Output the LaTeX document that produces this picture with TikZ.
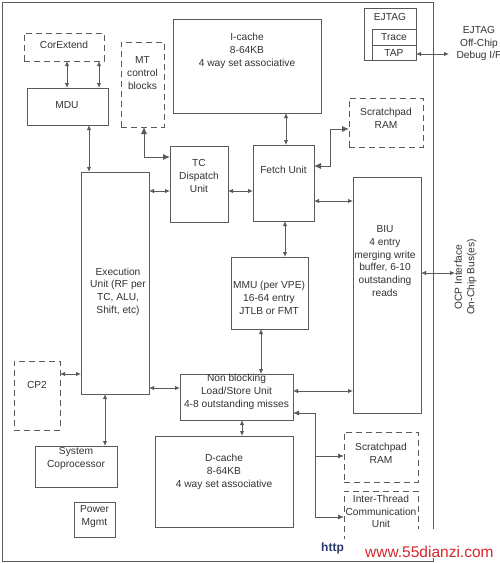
\documentclass[tikz,border=0pt]{standalone}
\usepackage{fontspec}
\setmainfont{Liberation Sans}
\usetikzlibrary{arrows.meta,fit}
\definecolor{ln}{HTML}{5A5A5A}
\definecolor{tx}{HTML}{333333}
\definecolor{wmred}{HTML}{D8262B}
\definecolor{wmblue}{HTML}{2B3A6E}
\begin{document}
\begin{tikzpicture}[x=1pt,y=-1pt,
  box/.style={draw=ln,line width=0.9pt,inner sep=0pt,outer sep=0pt},
  dbox/.style={box,dash pattern=on 6pt off 4pt},
  lbl/.style={text=tx,font=\fontsize{10.2}{12.7}\selectfont,align=center,inner sep=0pt},
  dbl/.style={draw=ln,line width=0.9pt,{Latex[length=5pt,width=4.5pt]}-{Latex[length=5pt,width=4.5pt]}},
  dblbig/.style={draw=ln,line width=0.9pt,{Latex[length=7pt,width=6pt]}-{Latex[length=7pt,width=6pt]}},
  onebig/.style={draw=ln,line width=0.9pt,-{Latex[length=6pt,width=5pt]}},
  startbig/.style={draw=ln,line width=0.9pt,{Latex[length=6pt,width=5pt]}-}
]
\useasboundingbox (0,0) rectangle (500,563);
\fill[white] (0,0) rectangle (500,563);
% outer frame
\node[box,fit={(2,2) (433,561)}] (chip) {};
% boxes
\node[dbox,fit={(24,33) (104,61)}] (corext) {};
\node[box,fit={(27,88) (108,125)}] (mdu) {};
\node[dbox,fit={(121,42) (164,127)}] (mt) {};
\node[box,fit={(173,19) (321,113)}] (icache) {};
\node[box,fit={(364,8) (416,60)}] (ejtag) {};
\node[box,fit={(372,29) (416,45)}] (trace) {};
\node[box,fit={(372,45) (416,60)}] (tap) {};
\node[dbox,fit={(349,98) (423,147)}] (spram1) {};
\node[box,fit={(81,172) (149,394)}] (exec) {};
\node[box,fit={(170,146) (228,222)}] (tc) {};
\node[box,fit={(253,145) (314,221)}] (fetch) {};
\node[box,fit={(353,177) (421,413)}] (biu) {};
\node[box,fit={(231,257) (308,329)}] (mmu) {};
\node[box,fit={(180,374) (293,420)}] (lsu) {};
\node[box,fit={(155,436) (293,527)}] (dcache) {};
\node[dbox,fit={(14,361) (60,430)}] (cp2) {};
\node[box,fit={(35,446) (117,487)}] (syscop) {};
\node[box,fit={(74,502) (115,537)}] (power) {};
\node[dbox,fit={(344,432) (418,482)}] (spram2) {};
\node[dbox,fit={(344,491) (418,548)}] (itc) {};
% texts
\node[lbl] (corext-t) at (64,45) {CorExtend};
\node[lbl] (mdu-t) at (67,105) {MDU};
\node[lbl] (mt-t) at (142.5,73) {MT\\control\\blocks};
\node[lbl] (icache-t) at (247,51) {I-cache\\8-64KB\\4 way set associative};
\node[lbl] (ejtag-t) at (390,17) {EJTAG};
\node[lbl] (trace-t) at (394,37.5) {Trace};
\node[lbl] (tap-t) at (394,52.5) {TAP};
\node[lbl] (debug-t) at (479,43.5) {EJTAG\\Off-Chip\\Debug I/F};
\node[lbl] (spram1-t) at (386,118) {Scratchpad\\RAM};
\node[lbl] (tc-t) at (199,176) {TC\\Dispatch\\Unit};
\node[lbl] (fetch-t) at (283.5,170) {Fetch Unit};
\node[lbl] (exec-t) at (118,291.5) {Execution\\Unit (RF per\\TC, ALU,\\Shift, etc)};
\node[lbl] (biu-t) at (385,261) {BIU\\4 entry\\merging write\\buffer, 6-10\\outstanding\\reads};
\node[lbl] (mmu-t) at (269,298) {MMU (per VPE)\\16-64 entry\\JTLB or FMT};
\node[lbl] (lsu-t) at (236.5,392) {Non blocking\\Load/Store Unit\\4-8 outstanding misses};
\node[lbl] (dcache-t) at (224,472) {D-cache\\8-64KB\\4 way set associative};
\node[lbl] (cp2-t) at (37,385) {CP2};
\node[lbl] (syscop-t) at (76,458.5) {System\\Coprocessor};
\node[lbl] (power-t) at (94.5,516.5) {Power\\Mgmt};
\node[lbl] (spram2-t) at (381,453) {Scratchpad\\RAM};
\node[lbl] (itc-t) at (381,511.5) {Inter-Thread\\Communication\\Unit};
\node[lbl,rotate=90] (ocp-t) at (465.5,277) {OCP Interface\\On-Chip Bus(es)};
% free ends
\coordinate (dbgend) at (449,54);
\coordinate (ocpend) at (455,273);
% connectors
\draw[dbl] (corext.south -| 67,0) -- (mdu.north -| 67,0);
\draw[dbl] (corext.south -| 99,0) -- (mdu.north -| 99,0);
\draw[dbl] (mdu.south -| 89,0) -- (exec.north -| 89,0);
\draw[dblbig] (mt.south -| 144,0) -- (144,157) -- (tc.west |- 0,157);
\draw[dbl] (exec.east |- 0,191) -- (tc.west |- 0,191);
\draw[dbl] (tc.east |- 0,191) -- (fetch.west |- 0,191);
\draw[dbl] (icache.south -| 286,0) -- (fetch.north -| 286,0);
\draw[dblbig] (fetch.east |- 0,166) -- (330,166) -- (330,129) -- (spram1.west |- 0,129);
\draw[dbl] (fetch.east |- 0,201) -- (biu.west |- 0,201);
\draw[dbl] (fetch.south -| 285,0) -- (mmu.north -| 285,0);
\draw[dbl] (mmu.south -| 261,0) -- (lsu.north -| 261,0);
\draw[dbl] (exec.east |- 0,388) -- (lsu.west |- 0,388);
\draw[dbl] (lsu.east |- 0,391) -- (biu.west |- 0,391);
\draw[dbl] (lsu.south -| 242,0) -- (dcache.north -| 242,0);
\draw[startbig] (lsu.east |- 0,413) -- (315,413) -- (315,517);
\draw[onebig] (315,517) -- (itc.west |- 0,517);
\draw[onebig] (315,456) -- (spram2.west |- 0,456);
\draw[dbl] (cp2.east |- 0,374) -- (exec.west |- 0,374);
\draw[dbl] (exec.south -| 105,0) -- (syscop.north -| 105,0);
\draw[dbl] (tap.east |- 0,54) -- (dbgend);
\draw[dbl] (biu.east |- 0,273) -- (ocpend);
% watermark
\fill[white] (346,529) rectangle (500,558);
\fill[white] (318,539) rectangle (346,558);
\node[text=wmblue,font=\bfseries\fontsize{12}{14}\selectfont,anchor=west,inner sep=0pt] (wm1) at (321,548) {http};
\node[text=wmred,font=\fontsize{15.5}{18}\selectfont,anchor=west,inner sep=0pt] (wm2) at (365,552) {www.55dianzi.com};
\end{tikzpicture}
\end{document}
